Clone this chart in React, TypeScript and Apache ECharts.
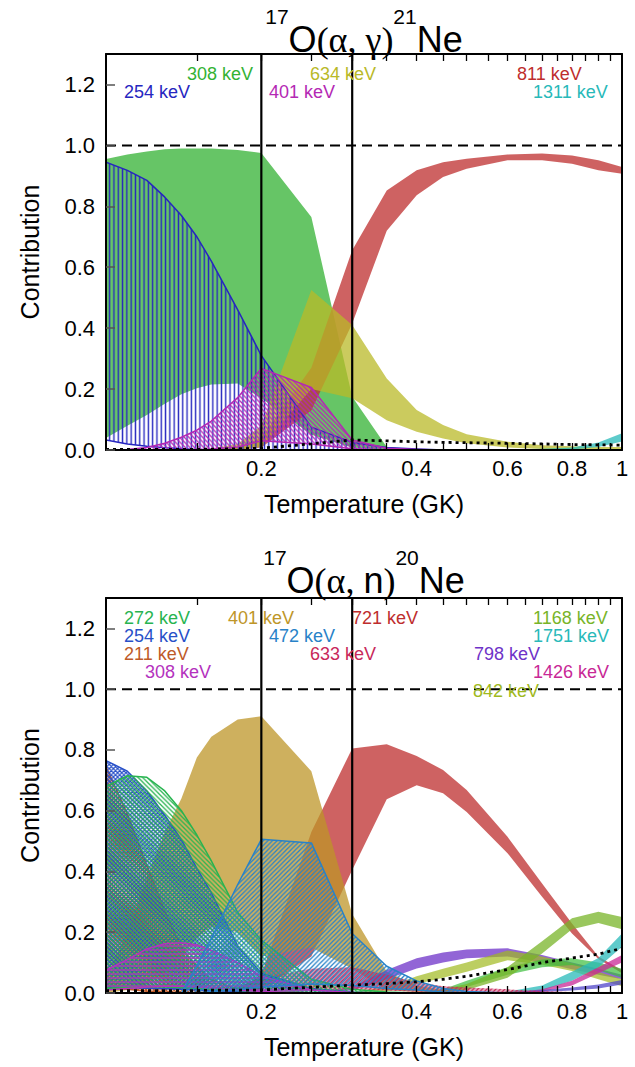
import React, { useEffect, useRef } from 'react';
import * as echarts from 'echarts';

// ---------- data ----------
const T = [0.1, 0.11, 0.12, 0.13, 0.14, 0.15, 0.16, 0.18, 0.2, 0.25, 0.3, 0.35, 0.4, 0.45, 0.5, 0.6, 0.7, 0.8, 0.9, 1.0];
const X_TICKS = [0.15, 0.2, 0.25, 0.3, 0.35, 0.4, 0.45, 0.5, 0.55, 0.6, 0.65, 0.7, 0.75, 0.8, 0.85, 0.9, 0.95];
const X_LABELS = [0.2, 0.4, 0.6, 0.8, 1];
const Y_TICKS = [0, 0.2, 0.4, 0.6, 0.8, 1.0, 1.2];
const Y_MAX = 1.3;
const V_LINES = [0.2, 0.3];
const H_LINE = 1.0;

// 17O(a,g)21Ne
const AG_308_HI = [0.955, 0.97, 0.98, 0.987, 0.99, 0.99, 0.99, 0.985, 0.975, 0.765, 0.175, 0.01, 0, 0, 0, 0, 0, 0, 0, 0];
const AG_308_LO = [0.039, 0.08, 0.115, 0.152, 0.183, 0.203, 0.215, 0.218, 0.17, 0.05, 0.008, 0, 0, 0, 0, 0, 0, 0, 0, 0];
const AG_254_HI = [0.945, 0.918, 0.885, 0.83, 0.77, 0.7, 0.62, 0.46, 0.31, 0.075, 0.025, 0.008, 0.003, 0, 0, 0, 0, 0, 0, 0];
const AG_254_LO = [0.033, 0.02, 0.012, 0.007, 0.004, 0.002, 0.001, 0, 0, 0, 0, 0, 0, 0, 0, 0, 0, 0, 0, 0];
const AG_401_HI = [0, 0.002, 0.008, 0.022, 0.042, 0.065, 0.095, 0.172, 0.268, 0.205, 0.033, 0.006, 0.002, 0, 0, 0, 0, 0, 0, 0];
const AG_401_LO = [0, 0, 0, 0, 0, 0, 0.003, 0.01, 0.03, 0.02, 0.004, 0, 0, 0, 0, 0, 0, 0, 0, 0];
const AG_634_HI = [0, 0, 0, 0, 0, 0, 0.005, 0.02, 0.08, 0.525, 0.41, 0.235, 0.131, 0.082, 0.052, 0.027, 0.016, 0.012, 0.01, 0.01];
const AG_634_LO = [0, 0, 0, 0, 0, 0, 0, 0, 0.01, 0.2, 0.17, 0.098, 0.06, 0.038, 0.022, 0.008, 0.003, 0.002, 0.002, 0.002];
const AG_811_HI = [0, 0, 0, 0, 0, 0, 0, 0.01, 0.04, 0.27, 0.656, 0.852, 0.918, 0.945, 0.956, 0.97, 0.973, 0.967, 0.951, 0.929];
const AG_811_LO = [0, 0, 0, 0, 0, 0, 0, 0, 0.008, 0.13, 0.415, 0.72, 0.836, 0.896, 0.923, 0.951, 0.951, 0.94, 0.918, 0.907];
const AG_1311_HI = [0, 0, 0, 0, 0, 0, 0, 0, 0, 0, 0, 0, 0, 0, 0, 0.002, 0.004, 0.008, 0.025, 0.055];
const AG_1311_LO = [0, 0, 0, 0, 0, 0, 0, 0, 0, 0, 0, 0, 0, 0, 0, 0, 0, 0.002, 0.01, 0.028];
const AG_LIMIT = [0.002, 0.002, 0.002, 0.002, 0.002, 0.002, 0.003, 0.004, 0.006, 0.02, 0.033, 0.03, 0.027, 0.025, 0.024, 0.022, 0.02, 0.018, 0.017, 0.016];

// 17O(a,n)20Ne
const AN_211_HI = [0.745, 0.59, 0.42, 0.27, 0.15, 0.085, 0.045, 0.012, 0.003, 0, 0, 0, 0, 0, 0, 0, 0, 0, 0, 0];
const AN_211_LO = [0.02, 0.012, 0.006, 0.003, 0.001, 0, 0, 0, 0, 0, 0, 0, 0, 0, 0, 0, 0, 0, 0, 0];
const AN_254_HI = [0.765, 0.73, 0.665, 0.585, 0.505, 0.41, 0.33, 0.155, 0.065, 0.015, 0.003, 0, 0, 0, 0, 0, 0, 0, 0, 0];
const AN_254_LO = [0.02, 0.018, 0.016, 0.014, 0.012, 0.01, 0.008, 0.005, 0.003, 0.001, 0, 0, 0, 0, 0, 0, 0, 0, 0, 0];
const AN_272_HI = [0.68, 0.715, 0.71, 0.665, 0.6, 0.52, 0.435, 0.265, 0.174, 0.045, 0.012, 0.003, 0, 0, 0, 0, 0, 0, 0, 0];
const AN_272_LO = [0.015, 0.018, 0.02, 0.02, 0.018, 0.015, 0.012, 0.008, 0.005, 0.002, 0.001, 0, 0, 0, 0, 0, 0, 0, 0, 0];
const AN_308_HI = [0.075, 0.11, 0.145, 0.162, 0.165, 0.158, 0.14, 0.1, 0.055, 0.01, 0.002, 0, 0, 0, 0, 0, 0, 0, 0, 0];
const AN_308_LO = [0.01, 0.015, 0.02, 0.022, 0.022, 0.02, 0.017, 0.01, 0.005, 0.001, 0, 0, 0, 0, 0, 0, 0, 0, 0, 0];
const AN_401_HI = [0.05, 0.2, 0.38, 0.53, 0.64, 0.775, 0.843, 0.9, 0.911, 0.73, 0.26, 0.07, 0.025, 0.01, 0.004, 0, 0, 0, 0, 0];
const AN_401_LO = [0, 0.01, 0.03, 0.07, 0.12, 0.18, 0.22, 0.2, 0.12, 0.15, 0.08, 0.01, 0.003, 0, 0, 0, 0, 0, 0, 0];
const AN_472_HI = [0, 0, 0, 0, 0, 0.09, 0.18, 0.357, 0.506, 0.494, 0.196, 0.088, 0.04, 0.015, 0.005, 0, 0, 0, 0, 0];
const AN_472_LO = [0, 0, 0, 0, 0, 0, 0.005, 0.01, 0.02, 0.03, 0.025, 0.015, 0.01, 0.003, 0, 0, 0, 0, 0, 0];
const AN_633_HI = [0, 0, 0, 0, 0, 0.002, 0.005, 0.02, 0.05, 0.08, 0.085, 0.06, 0.035, 0.022, 0.018, 0.012, 0.006, 0.003, 0.002, 0.001];
const AN_633_LO = [0, 0, 0, 0, 0, 0, 0, 0.002, 0.005, 0.01, 0.012, 0.008, 0.004, 0.003, 0.002, 0.001, 0, 0, 0, 0];
const AN_721_HI = [0, 0, 0, 0, 0, 0, 0, 0.01, 0.06, 0.53, 0.805, 0.819, 0.78, 0.734, 0.668, 0.514, 0.36, 0.229, 0.12, 0.075];
const AN_721_LO = [0, 0, 0, 0, 0, 0, 0, 0, 0.01, 0.12, 0.405, 0.638, 0.684, 0.657, 0.596, 0.46, 0.317, 0.196, 0.112, 0.065];
const AN_798_HI = [0, 0, 0, 0, 0, 0, 0, 0, 0, 0.002, 0.02, 0.076, 0.114, 0.133, 0.143, 0.147, 0.125, 0.1, 0.08, 0.06];
const AN_798_LO = [0, 0, 0, 0, 0, 0, 0, 0, 0, 0, 0.008, 0.045, 0.081, 0.1, 0.114, 0.12, 0.1, 0.078, 0.06, 0.045];
const AN_842_HI = [0, 0, 0, 0, 0, 0, 0, 0, 0, 0, 0.003, 0.02, 0.055, 0.08, 0.1, 0.14, 0.12, 0.098, 0.07, 0.045];
const AN_842_LO = [0, 0, 0, 0, 0, 0, 0, 0, 0, 0, 0, 0.005, 0.03, 0.05, 0.07, 0.108, 0.093, 0.072, 0.045, 0.022];
const AN_1168_HI = [0, 0, 0, 0, 0, 0, 0, 0, 0, 0, 0, 0, 0, 0.012, 0.03, 0.085, 0.17, 0.246, 0.267, 0.25];
const AN_1168_LO = [0, 0, 0, 0, 0, 0, 0, 0, 0, 0, 0, 0, 0, 0.002, 0.01, 0.05, 0.13, 0.21, 0.23, 0.21];
const AN_1426_HI = [0, 0, 0, 0, 0, 0, 0, 0, 0, 0, 0, 0, 0, 0, 0, 0, 0.012, 0.04, 0.085, 0.125];
const AN_1426_LO = [0, 0, 0, 0, 0, 0, 0, 0, 0, 0, 0, 0, 0, 0, 0, 0, 0.004, 0.025, 0.065, 0.1];
const AN_1751_HI = [0, 0, 0, 0, 0, 0, 0, 0, 0, 0, 0, 0, 0, 0, 0, 0.005, 0.025, 0.07, 0.115, 0.196];
const AN_1751_LO = [0, 0, 0, 0, 0, 0, 0, 0, 0, 0, 0, 0, 0, 0, 0, 0, 0.008, 0.04, 0.085, 0.152];
const AN_XG_HI = [0, 0, 0, 0, 0, 0, 0, 0, 0, 0, 0, 0, 0, 0.012, 0.04, 0.085, 0.11, 0.114, 0.1, 0.08];
const AN_XG_LO = [0, 0, 0, 0, 0, 0, 0, 0, 0, 0, 0, 0, 0, 0, 0.02, 0.06, 0.085, 0.092, 0.075, 0.05];
const AN_XB_HI = [0, 0, 0, 0, 0, 0, 0, 0, 0, 0, 0, 0, 0, 0, 0, 0.002, 0.01, 0.018, 0.028, 0.043];
const AN_XB_LO = [0, 0, 0, 0, 0, 0, 0, 0, 0, 0, 0, 0, 0, 0, 0, 0, 0.003, 0.008, 0.015, 0.028];
const AN_LIMIT = [0.008, 0.008, 0.008, 0.008, 0.008, 0.008, 0.009, 0.009, 0.01, 0.019, 0.026, 0.031, 0.037, 0.045, 0.055, 0.077, 0.1, 0.115, 0.128, 0.147];

const AG_LABELS = ['308 keV', '254 keV', '634 keV', '401 keV', '811 keV', '1311 keV'];
const AN_LABELS = ['272 keV', '254 keV', '211 keV', '308 keV', '401 keV', '472 keV', '633 keV', '721 keV', '1168 keV', '1751 keV', '798 keV', '1426 keV', '842 keV'];

// ---------- styles / layout ----------
const FONT = "'Liberation Sans', Arial, Helvetica, sans-serif";
const SERIF = "'Liberation Serif', 'Times New Roman', serif";

const C = {
  g308: '#33b233', b254: '#2626c0', m401: '#b428b4', o634: '#b9b928', r811: '#be2d2d', t1311: '#28b9b9',
  g272: '#28b450', b254n: '#2850c8', br211: '#be5a28', m308: '#b432be', gold401: '#be9628', c472: '#2882c8',
  cr633: '#c8285a', r721: '#be2d2d', yg1168: '#78b428', t1751: '#28b9b9', p798: '#6e32c8', pk1426: '#c82896',
  ol842: '#a0b91e', xg: '#3cbe3c', xb: '#5046c8',
};
const AG_LABEL_COLORS = [C.g308, C.b254, C.o634, C.m401, C.r811, C.t1311];
const AN_LABEL_COLORS = [C.g272, C.b254n, C.br211, C.m308, C.gold401, C.c472, C.cr633, C.r721, C.yg1168, C.t1751, C.p798, C.pk1426, C.ol842];
const AG_LABEL_POS = [[187, 74], [124, 92], [310, 74], [269, 92], [517, 74], [533, 92]];
const AN_LABEL_POS = [[124, 618], [124, 636], [124, 654], [145, 672], [228, 618], [269, 636], [310, 654], [352, 618], [533, 618], [533, 636], [474, 654], [533, 672], [473, 691]];

const GRIDS = [
  { left: 106, top: 54, width: 516, height: 396 },
  { left: 106, top: 598, width: 516, height: 395 },
];

function alpha(hex: string, a: number) {
  const n = parseInt(hex.slice(1), 16);
  return `rgba(${(n >> 16) & 255},${(n >> 8) & 255},${n & 255},${a})`;
}

function hatchFill(kind: string, color: string, s: number, lw: number) {
  const slash = `M0 ${s}L${s} 0M${-s / 2} ${s / 2}L${s / 2} ${-s / 2}M${s / 2} ${s * 1.5}L${s * 1.5} ${s / 2}`;
  const back = `M0 0L${s} ${s}M${-s / 2} ${s / 2}L${s / 2} ${s * 1.5}M${s / 2} ${-s / 2}L${s * 1.5} ${s / 2}`;
  let d = '';
  if (kind === 'v') d = `M${s / 2} 0V${s}`;
  else if (kind === 'h') d = `M0 ${s / 2}H${s}`;
  else if (kind === 'grid') d = `M${s / 2} 0V${s}M0 ${s / 2}H${s}`;
  else if (kind === 'd1') d = slash;
  else if (kind === 'd2') d = back;
  else d = slash + back;
  const svg = `<svg xmlns="http://www.w3.org/2000/svg" width="${s}" height="${s}"><path d="${d}" stroke="${color}" stroke-width="${lw}" fill="none"/></svg>`;
  return { image: 'data:image/svg+xml;charset=utf-8,' + encodeURIComponent(svg), repeat: 'repeat', imageWidth: s, imageHeight: s };
}

type Band = { lo: number[]; hi: number[]; color: string; fill?: number; hatch?: string; tile?: number; lw?: number; stroke?: boolean };

const AG_BANDS: Band[] = [
  { lo: AG_308_LO, hi: AG_308_HI, color: C.g308, fill: 0.75 },
  { lo: AG_811_LO, hi: AG_811_HI, color: C.r811, fill: 0.75 },
  { lo: AG_634_LO, hi: AG_634_HI, color: C.o634, fill: 0.75 },
  { lo: AG_1311_LO, hi: AG_1311_HI, color: C.t1311, fill: 0.75 },
  { lo: AG_254_LO, hi: AG_254_HI, color: C.b254, hatch: 'v', tile: 4.3, lw: 1.4, stroke: true },
  { lo: AG_401_LO, hi: AG_401_HI, color: C.m401, hatch: 'd2', tile: 4.6, lw: 1.3, stroke: true },
];

const AN_BANDS: Band[] = [
  { lo: AN_721_LO, hi: AN_721_HI, color: C.r721, fill: 0.75 },
  { lo: AN_401_LO, hi: AN_401_HI, color: C.gold401, fill: 0.75 },
  { lo: AN_798_LO, hi: AN_798_HI, color: C.p798, fill: 0.75 },
  { lo: AN_842_LO, hi: AN_842_HI, color: C.ol842, fill: 0.7 },
  { lo: AN_XG_LO, hi: AN_XG_HI, color: C.xg, fill: 0.7 },
  { lo: AN_1168_LO, hi: AN_1168_HI, color: C.yg1168, fill: 0.75 },
  { lo: AN_1751_LO, hi: AN_1751_HI, color: C.t1751, fill: 0.75 },
  { lo: AN_1426_LO, hi: AN_1426_HI, color: C.pk1426, fill: 0.75 },
  { lo: AN_XB_LO, hi: AN_XB_HI, color: C.xb, fill: 0.75 },
  { lo: AN_633_LO, hi: AN_633_HI, color: C.cr633, fill: 0.4, hatch: 'd1', tile: 4.5, lw: 1.2 },
  { lo: AN_211_LO, hi: AN_211_HI, color: C.br211, hatch: 'x', tile: 4, lw: 1.3, stroke: true },
  { lo: AN_254_LO, hi: AN_254_HI, color: C.b254n, hatch: 'x', tile: 4.2, lw: 1.2, stroke: true },
  { lo: AN_272_LO, hi: AN_272_HI, color: C.g272, hatch: 'd2', tile: 4.6, lw: 1.3, stroke: true },
  { lo: AN_308_LO, hi: AN_308_HI, color: C.m308, hatch: 'h', tile: 4, lw: 1.3, stroke: true },
  { lo: AN_472_LO, hi: AN_472_HI, color: C.c472, hatch: 'd1', tile: 4.6, lw: 1.3, stroke: true },
];

function bandSeries(b: Band, g: number) {
  const fillStyle = b.fill != null ? { fill: alpha(b.color, b.fill), stroke: null } : null;
  const hatchStyle = b.hatch
    ? { fill: hatchFill(b.hatch, b.color, b.tile || 5, b.lw || 1.2), stroke: b.stroke ? b.color : null, lineWidth: 1.5, lineJoin: 'round' }
    : null;
  return {
    type: 'custom',
    xAxisIndex: g * 2,
    yAxisIndex: g * 2,
    clip: true,
    silent: true,
    encode: { x: 0, y: [1, 2] },
    data: T.map((t, i) => [t, b.lo[i], b.hi[i]]),
    renderItem: (params: any, api: any) => {
      if (params.dataIndexInside !== 0) return null;
      const n = params.dataInsideLength;
      const top: number[][] = [];
      const bot: number[][] = [];
      for (let i = 0; i < n; i++) {
        const t = api.value(0, i);
        top.push(api.coord([t, api.value(2, i)]));
        bot.push(api.coord([t, api.value(1, i)]));
      }
      const pts = top.concat(bot.reverse());
      const els: any[] = [];
      if (fillStyle) els.push({ type: 'polygon', shape: { points: pts }, style: fillStyle });
      if (hatchStyle) els.push({ type: 'polygon', shape: { points: pts }, style: hatchStyle });
      return { type: 'group', children: els };
    },
  };
}

function lineSeries(g: number, data: number[][], lineStyle: any, z: number) {
  return { type: 'line', xAxisIndex: g * 2, yAxisIndex: g * 2, data, symbol: 'none', silent: true, z, lineStyle, clip: true };
}

const fmtT = (v: number) => (Math.abs(v - 1) < 1e-9 ? '1' : v.toFixed(1));

function xAxesFor(g: number) {
  const base = {
    type: 'log', logBase: 10, gridIndex: g, min: 0.1, max: 1, z: 6,
    splitLine: { show: false }, minorTick: { show: false }, minorSplitLine: { show: false },
  };
  const tickStyle = { color: '#000', width: 1.3 };
  return [
    {
      ...base, position: 'bottom',
      axisLine: { show: true, onZero: false, lineStyle: { color: '#000', width: 2 } },
      axisTick: { show: true, inside: true, length: 7, customValues: X_TICKS, lineStyle: tickStyle },
      axisLabel: { show: true, customValues: X_LABELS, formatter: fmtT, margin: 7, fontSize: 22, color: '#000', fontFamily: FONT },
      name: 'Temperature (GK)', nameLocation: 'middle', nameGap: 41,
      nameTextStyle: { fontSize: 25, color: '#000', fontFamily: FONT },
    },
    {
      ...base, position: 'top',
      axisLine: { show: true, onZero: false, lineStyle: { color: '#000', width: 2 } },
      axisTick: { show: true, inside: true, length: 7, customValues: X_TICKS, lineStyle: tickStyle },
      axisLabel: { show: false },
    },
  ];
}

function yAxesFor(g: number) {
  return [
    {
      type: 'value', gridIndex: g, min: 0, max: Y_MAX, position: 'left', z: 6,
      axisLine: { show: true, onZero: false, lineStyle: { color: '#000', width: 2 } },
      axisTick: { show: true, inside: true, length: 9, customValues: Y_TICKS, lineStyle: { color: '#555', width: 1.5 } },
      axisLabel: { show: true, customValues: Y_TICKS, formatter: (v: number) => v.toFixed(1), margin: 11, fontSize: 22, color: '#000', fontFamily: FONT },
      splitLine: { show: false },
      name: 'Contribution', nameLocation: 'middle', nameGap: 64, nameRotate: 90,
      nameTextStyle: { fontSize: 25, color: '#000', fontFamily: FONT },
    },
    {
      type: 'value', gridIndex: g, min: 0, max: Y_MAX, position: 'right', z: 6,
      axisLine: { show: true, onZero: false, lineStyle: { color: '#000', width: 2 } },
      axisTick: { show: false }, axisLabel: { show: false }, splitLine: { show: false },
    },
  ];
}

function overlaySeries(g: number, limit: number[]) {
  const out: any[] = [];
  out.push(lineSeries(g, T.map((t, i) => [t, limit[i]]), { color: '#000', width: 2.8, type: [3, 4], cap: 'butt' }, 4));
  out.push(lineSeries(g, [[T[0], H_LINE], [T[T.length - 1], H_LINE]], { color: '#000', width: 2, type: [10, 6] }, 4));
  V_LINES.forEach((v) => out.push(lineSeries(g, [[v, 0], [v, Y_MAX]], { color: '#000', width: 2.2, type: 'solid' }, 5)));
  return out;
}

const RICH = {
  s: { fontSize: 21, fontFamily: FONT, fill: '#000', padding: [0, 0, 46, 0] },
  m: { fontSize: 36, fontFamily: FONT, fill: '#000' },
  p: { fontSize: 36, fontFamily: SERIF, fill: '#000' },
};

function labelGraphics(texts: string[], colors: string[], pos: number[][]) {
  return texts.map((t, i) => ({
    type: 'text', x: pos[i][0], y: pos[i][1], z: 20, silent: true,
    style: { text: t, fill: colors[i], font: `18px ${FONT}`, verticalAlign: 'middle', align: 'left' },
  }));
}

export default function App() {
  const ref = useRef<HTMLDivElement>(null);
  useEffect(() => {
    if (!ref.current) return;
    const chart = echarts.init(ref.current, null, { renderer: 'svg' });
    const option: any = {
      animation: false,
      backgroundColor: '#fff',
      grid: GRIDS.map((g) => ({ ...g, containLabel: false })),
      xAxis: [...xAxesFor(0), ...xAxesFor(1)],
      yAxis: [...yAxesFor(0), ...yAxesFor(1)],
      series: [
        ...AG_BANDS.map((b) => bandSeries(b, 0)),
        ...overlaySeries(0, AG_LIMIT),
        ...AN_BANDS.map((b) => bandSeries(b, 1)),
        ...overlaySeries(1, AN_LIMIT),
      ],
      graphic: [
        {
          type: 'text', x: 364, y: 6, z: 20, silent: true,
          style: { text: '{s|17}{m|O}{p|(α, γ)}{s|21}{m|Ne}', rich: RICH, align: 'center', verticalAlign: 'top' },
        },
        {
          type: 'text', x: 364, y: 547, z: 20, silent: true,
          style: { text: '{s|17}{m|O}{p|(α, }{m|n}{p|)}{s|20}{m|Ne}', rich: RICH, align: 'center', verticalAlign: 'top' },
        },
        ...labelGraphics(AG_LABELS, AG_LABEL_COLORS, AG_LABEL_POS),
        ...labelGraphics(AN_LABELS, AN_LABEL_COLORS, AN_LABEL_POS),
      ],
    };
    chart.setOption(option);
    return () => chart.dispose();
  }, []);
  return <div ref={ref} style={{ position: 'absolute', left: 0, top: 0, width: 635, height: 1067 }} />;
}
